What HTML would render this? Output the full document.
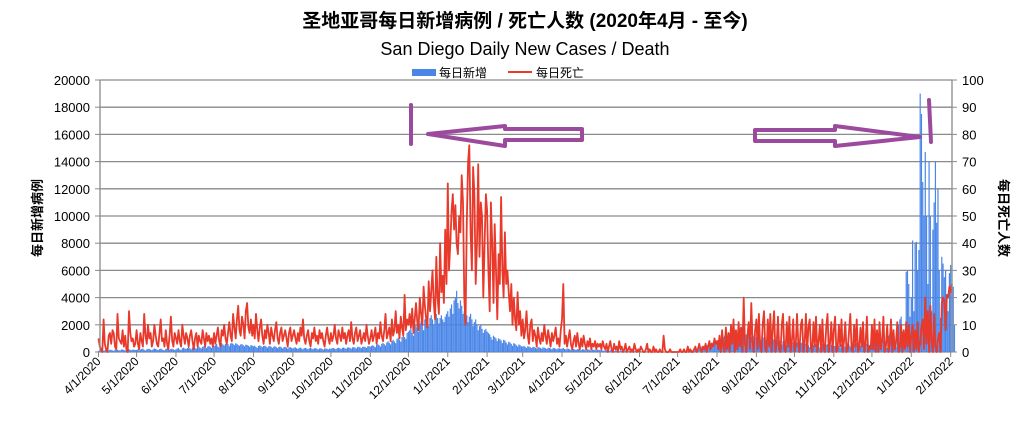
<!DOCTYPE html>
<html><head><meta charset="utf-8">
<style>
body{margin:0;background:#fff;}
svg text{font-family:"Liberation Sans","Noto Sans CJK SC",sans-serif;}
</style></head>
<body>
<svg id="chart" width="1023" height="427" viewBox="0 0 1023 427" xmlns="http://www.w3.org/2000/svg">
<rect x="0" y="0" width="1023" height="427" fill="#fff"/>
<text x="525" y="27" text-anchor="middle" font-size="19" font-weight="bold">圣地亚哥每日新增病例 / 死亡人数  (2020年4月 - 至今)</text>
<text x="525" y="55" text-anchor="middle" font-size="18">San Diego Daily New Cases / Death</text>
<g>
<rect x="412" y="69" width="24" height="7" fill="#4a86e8"/>
<text x="439" y="77" font-size="12">每日新增</text>
<line x1="508" y1="72" x2="532" y2="72" stroke="#e8392b" stroke-width="2"/>
<text x="536" y="77" font-size="12">每日死亡</text>
</g>
<g id="grid"></g>
<g id="bars"></g>
<g id="line"></g>
<g id="axes"></g>
<g fill="none" stroke="#9b4a9e" stroke-width="4" stroke-linejoin="round" stroke-linecap="round">
<line x1="411" y1="105" x2="411" y2="144"/>
<polygon points="428,134 505,126 505,129 582,129 582,140 505,140 505,146"/>
<polygon points="755,130 835,130 835,126 920,137 835,146 835,141 755,141"/>
<line x1="929" y1="100" x2="931" y2="142"/>
</g>
<text transform="translate(42,218) rotate(-90)" text-anchor="middle" font-size="13" font-weight="bold">每日新增病例</text>
<text transform="translate(999,218) rotate(90)" text-anchor="middle" font-size="13" font-weight="bold">每日死亡人数</text>
</svg>
<script>
const leftTicks=[0,2000,4000,6000,8000,10000,12000,14000,16000,18000,20000];
const rightTicks=[0,10,20,30,40,50,60,70,80,90,100];
const monthLabels=["4/1/2020","5/1/2020","6/1/2020","7/1/2020","8/1/2020","9/1/2020","10/1/2020","11/1/2020","12/1/2020","1/1/2021","2/1/2021","3/1/2021","4/1/2021","5/1/2021","6/1/2021","7/1/2021","8/1/2021","9/1/2021","10/1/2021","11/1/2021","12/1/2021","1/1/2022","2/1/2022"];
const cases=[
80,120,150,100,90,130,160,140,110,180,150,120,90,170,200,160,130,110,180,190,150,120,140,200,210,160,130,180,170,150,
150,200,120,180,230,250,160,110,190,240,220,170,130,200,260,230,180,140,210,250,200,150,120,230,260,210,170,220,240,190,150,
200,250,300,180,150,280,320,260,220,300,350,280,200,330,380,300,250,350,400,320,260,380,420,350,290,400,450,380,300,420,
450,500,600,400,350,550,650,550,480,600,700,580,420,620,680,600,500,640,600,520,450,560,580,500,420,540,520,460,380,500,480,
420,460,380,300,450,480,420,360,440,460,400,320,420,450,380,300,400,420,360,280,380,400,340,260,360,380,320,250,340,360,300,
260,320,340,280,220,300,320,260,200,290,310,260,200,280,300,250,200,270,290,240,190,260,280,230,180,250,270,230,190,260,
240,280,300,250,200,290,310,270,220,300,330,280,230,320,340,300,250,340,360,320,260,360,380,340,280,380,400,360,300,420,440,
380,450,500,420,350,520,580,500,400,600,680,580,480,700,780,680,560,800,900,780,650,950,1050,900,760,1100,1250,1100,950,1400,
1500,1600,1800,1400,1200,1900,2000,1800,1500,2100,2300,2000,1600,2400,2600,2300,1900,2500,2700,2400,2000,2600,2800,2500,2100,2500,2700,2400,2200,2600,2800,
3000,2600,3200,3500,2800,3800,4000,4500,3600,3200,3800,3400,2800,3000,3200,2700,2200,2600,2800,2400,1900,2200,2400,2000,1600,1900,2000,1700,1400,1600,1700,
1500,1400,1300,1100,900,1200,1100,1000,800,1000,950,850,650,900,850,700,550,750,700,600,450,650,600,500,400,550,500,420,
400,450,380,300,420,400,350,280,380,360,320,260,360,340,300,240,340,320,280,220,320,300,260,200,300,280,250,200,280,260,240,
250,300,220,180,260,240,200,160,240,220,190,150,220,200,180,140,200,190,170,130,190,180,160,120,180,170,150,110,170,160,
150,140,120,90,140,130,110,80,130,120,100,70,120,110,90,60,110,100,80,60,100,90,80,50,90,80,70,50,80,70,60,
60,50,40,30,60,50,40,20,50,40,30,20,50,40,30,20,40,60,30,20,40,30,20,10,40,30,20,10,30,20,10,
20,50,40,30,60,80,50,40,100,120,150,90,130,180,220,160,260,320,400,300,380,460,520,420,560,640,700,600,680,760,820,
900,1000,800,600,1100,1200,1000,800,1300,1400,1200,900,1400,1600,1300,1000,1500,1800,1400,1100,1400,1600,1300,1000,1300,1400,1100,900,1200,1300,1100,
1000,1100,900,700,1000,1100,900,700,950,1000,850,650,900,950,800,600,850,900,750,550,800,850,700,500,750,800,650,480,700,750,
600,700,550,400,650,700,550,400,600,650,500,350,600,620,500,350,580,600,480,330,560,600,460,320,540,580,450,320,520,560,440,
460,520,600,420,300,580,640,520,380,600,660,540,400,620,700,580,420,680,740,600,460,700,760,620,480,600,560,520,600,660,
600,700,800,500,300,900,1000,1100,900,800,400,300,1200,1300,1400,1200,1000,500,400,1800,2000,2400,2600,1500,800,600,5900,6000,5000,2600,4000,
8200,3000,8000,8100,6000,7500,19000,17500,12500,10000,14700,10000,5000,14000,10000,3000,9000,11000,14000,9500,12000,6000,2500,7000,6500,5500,6000,4000,3000,5800,6400,
5000,4800,2000
];
const deaths=[
5,2,1,0,12,3,1,0,6,7,3,8,7,2,1,14,5,4,3,8,2,6,1,0,15,7,4,5,2,3,
8,3,1,7,4,2,14,6,3,10,5,7,2,4,10,6,3,2,7,12,4,5,2,8,3,1,6,13,4,2,7,
5,3,8,4,2,10,6,3,7,5,2,6,8,4,1,5,7,2,6,4,3,8,5,2,7,4,6,3,5,2,
7,3,6,9,4,2,8,6,10,5,3,7,11,6,4,14,9,5,12,17,8,6,13,10,5,15,18,9,7,12,6,
10,5,14,8,4,9,12,6,3,8,5,10,7,3,9,6,4,8,11,5,3,7,9,4,6,8,5,2,7,9,4,
6,8,5,3,7,4,9,6,12,5,3,6,8,4,2,7,5,9,4,6,3,8,5,7,4,2,6,9,5,3,
7,4,6,10,5,3,8,6,4,9,5,7,3,6,8,4,11,5,3,7,9,4,6,8,3,5,7,4,10,6,3,
5,8,4,6,9,3,7,5,11,6,4,8,14,5,7,9,4,12,6,8,15,7,10,5,13,9,6,21,8,12,
10,14,9,16,7,12,18,11,8,20,14,10,24,17,12,9,26,15,22,30,18,12,35,20,14,40,22,28,18,45,25,
62,30,40,52,58,45,54,40,36,50,44,65,55,20,10,48,70,76,44,30,68,58,25,40,69,35,55,50,20,40,58,
52,30,15,55,40,18,47,30,12,36,25,57,30,20,44,25,30,22,15,25,10,20,12,8,22,10,15,6,
12,5,8,15,6,3,10,12,4,8,6,2,9,5,3,7,4,10,6,3,8,5,2,7,4,6,9,3,5,2,8,
12,25,3,6,2,5,8,3,1,4,6,2,7,3,1,5,2,6,3,1,4,2,5,1,3,2,4,1,3,2,
3,1,4,2,1,3,0,2,4,1,0,3,1,2,0,4,1,2,0,1,3,0,1,2,0,1,0,3,1,0,1,
0,2,1,0,0,1,3,0,1,0,0,2,0,1,0,0,1,0,0,6,1,0,0,0,1,0,0,0,0,0,
0,0,1,0,0,1,0,0,2,0,1,0,0,1,2,0,1,3,1,0,2,1,3,0,2,4,1,3,2,5,3,
4,1,6,0,8,2,0,9,1,7,0,10,3,12,0,8,1,11,2,9,0,20,3,0,6,11,1,18,4,0,8,
12,1,14,2,0,10,15,1,0,12,2,14,0,9,15,0,3,13,1,0,10,14,1,0,11,2,13,0,4,12,
0,2,14,3,0,10,12,0,3,14,0,9,12,1,0,11,2,13,0,4,10,0,12,1,0,9,14,0,3,11,0,
8,13,0,1,10,2,12,0,4,11,0,1,8,14,1,0,10,2,12,0,1,9,2,11,0,3,13,0,2,1,
10,1,12,0,8,0,11,1,4,13,0,2,10,0,3,12,0,8,1,4,11,0,2,10,0,8,1,11,2,10,0,
6,10,0,8,1,11,0,3,9,12,1,20,3,15,0,17,4,0,14,2,0,5,7,0,18,20,19,8,21,20,24,
22,25
];
const NS="http://www.w3.org/2000/svg";
const X0=98.5, PX_PER_DAY=1.27, YB=352, YT=80;
const start=Date.UTC(2020,3,1);
function xDay(d){return X0+d*PX_PER_DAY;}
function yL(v){return YB-(v/20000)*(YB-YT);}
function yR(v){return YB-(v/100)*(YB-YT);}
function mk(tag,attrs,parent){const e=document.createElementNS(NS,tag);for(const k in attrs)e.setAttribute(k,attrs[k]);parent.appendChild(e);return e;}
const grid=document.getElementById('grid'),axes=document.getElementById('axes'),bars=document.getElementById('bars'),lineG=document.getElementById('line');
leftTicks.forEach((t,i)=>{
  const g=mk('line',{x1:100,x2:952,y1:yL(t),y2:yL(t),stroke:'#8a8a8a','stroke-width':1.3},grid);
  
  
  const tm=mk('line',{x1:95,x2:100,y1:yL(t),y2:yL(t),stroke:'#8a8a8a'},axes);
  
  
  const lt=mk('text',{x:90,y:yL(t)+5,'text-anchor':'end','font-size':13},axes);
  lt.textContent=t;
  
  
});
rightTicks.forEach(t=>{
  const tm=mk('line',{x1:952,x2:957,y1:yR(t),y2:yR(t),stroke:'#8a8a8a'},axes);
  
  
  const rt=mk('text',{x:962,y:yR(t)+5,'font-size':13},axes);
  rt.textContent=t;
  
  
});
const la=mk('line',{x1:100,x2:100,y1:YT,y2:YB,stroke:'#8a8a8a','stroke-width':1.3},axes);


const ra=mk('line',{x1:952,x2:952,y1:YT,y2:YB,stroke:'#8a8a8a','stroke-width':1.3},axes);


monthLabels.forEach(lbl=>{
  const p=lbl.split('/');
  const d=(Date.UTC(+p[2],+p[0]-1,1)-start)/86400000;
  const x=xDay(d);
  const tm=mk('line',{x1:x,x2:x,y1:YB,y2:YB+5,stroke:'#8a8a8a'},axes);
  
  
  const t=mk('text',{transform:`translate(${x+3},${YB+10}) rotate(-45)`,'text-anchor':'end','font-size':12},axes);
  t.textContent=lbl;
  
  
});
cases.forEach((v,i)=>{
  const y=yL(v);
  const b=mk('rect',{x:xDay(i)-0.6,y:y,width:1.2,height:YB-y,fill:'#4a86e8'},bars);
  
  
});
const pts=deaths.map((v,i)=>xDay(i).toFixed(1)+','+yR(v).toFixed(1)).join(' ');
const pl=mk('polyline',{points:pts,fill:'none',stroke:'#e8392b','stroke-width':1.8,'stroke-linejoin':'round'},lineG);


</script>
</body></html>
